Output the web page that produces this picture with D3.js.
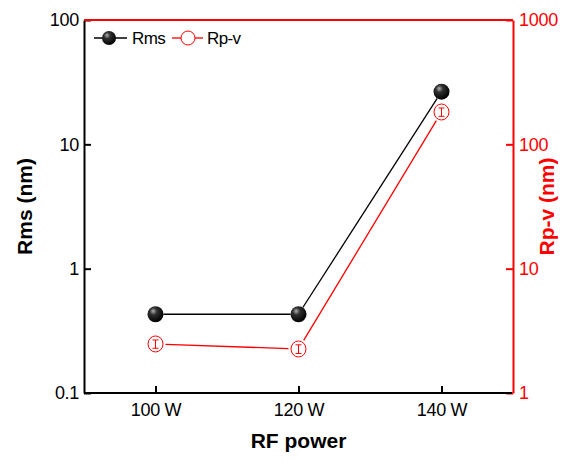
<!DOCTYPE html>
<html>
  <head>
    <title>Rms and Rp-v vs RF power</title>
    <script src="https://d3js.org/d3.v7.min.js"></script>
    <style>
      body { margin: 0; background: white; }
      svg { font-family: "Liberation Sans", Arial, sans-serif; }
      .tickLabel { font-size: 18px; letter-spacing: -0.3px; }
      .axisTitle { font-size: 21px; font-weight: bold; }
    </style>
  </head>
  <body>
    <script>
      // data
      var powers = [100, 120, 140];
      var powerLabels = ["100 W", "120 W", "140 W"];
      var rms = [0.43, 0.43, 26.5];
      var rmsErr = [0.02, 0.04, 1.2];
      var rpv = [2.48, 2.26, 182];
      var rpvErr = [0.19, 0.18, 14];
      var leftTicks = [0.1, 1, 10, 100];
      var rightTicks = [1, 10, 100, 1000];

      var width = 568;
      var height = 462;
      var margin = {top: 20, left: 84, right: 55, bottom: 69};

      var svg = d3.select("body")
        .append("svg")
        .attr("width", width)
        .attr("height", height);

      var defs = svg.append("defs");
      var grad = defs.append("radialGradient")
        .attr("id", "sphere")
        .attr("cx", "40%").attr("cy", "35%").attr("r", "65%")
        .attr("fx", "35%").attr("fy", "30%");
      grad.append("stop").attr("offset", "0%").attr("stop-color", "#b0b0b0");
      grad.append("stop").attr("offset", "35%").attr("stop-color", "#303030");
      grad.append("stop").attr("offset", "100%").attr("stop-color", "#000");

      var xScale = d3.scaleLinear()
        .domain([90, 150])
        .range([margin.left, width - margin.right]);

      var yLeft = d3.scaleLog()
        .domain([0.1, 100])
        .range([height - margin.bottom, margin.top]);

      var yRight = d3.scaleLog()
        .domain([1, 1000])
        .range([height - margin.bottom, margin.top]);

      function minors(lo, hi) {
        var out = [];
        for (var d = lo; d < hi; d *= 10)
          for (var k = 2; k <= 9; k++) out.push(d * k);
        return out;
      }

      var fmt = function(d) { return String(+d.toPrecision(3)); };

      // left axis (black, ticks inward)
      var gl = svg.append("g")
        .attr("transform", `translate(${margin.left},0)`);
      gl.call(d3.axisLeft(yLeft).tickValues(minors(0.1, 100)).tickSize(-4).tickFormat("").tickSizeOuter(0));
      gl.call(d3.axisLeft(yLeft).tickValues(leftTicks).tickSize(-7).tickPadding(5).tickFormat(fmt).tickSizeOuter(0));
      gl.selectAll("path, line").attr("stroke", "#000").attr("stroke-width", 2);
      gl.selectAll("text").attr("class", "tickLabel").attr("fill", "#000");

      // right axis (red, ticks inward)
      var gr = svg.append("g")
        .attr("transform", `translate(${width - margin.right},0)`);
      gr.call(d3.axisRight(yRight).tickValues(minors(1, 1000)).tickSize(-4).tickFormat("").tickSizeOuter(0));
      gr.call(d3.axisRight(yRight).tickValues(rightTicks).tickSize(-7).tickPadding(6).tickFormat(fmt).tickSizeOuter(0));
      gr.selectAll("path, line").attr("stroke", "red").attr("stroke-width", 2);
      gr.selectAll("text").attr("class", "tickLabel").attr("fill", "red");

      // top line (red)
      svg.append("line")
        .attr("x1", margin.left).attr("x2", width - margin.right)
        .attr("y1", margin.top).attr("y2", margin.top)
        .attr("stroke", "red").attr("stroke-width", 2);

      // bottom axis (black)
      var gb = svg.append("g")
        .attr("transform", `translate(0,${height - margin.bottom})`);
      gb.call(d3.axisBottom(xScale).tickValues(powers).tickSize(-7).tickPadding(10)
        .tickFormat(function(d, i) { return powerLabels[i]; }).tickSizeOuter(0));
      gb.select("path").attr("d", `M${margin.left},0H${width - margin.right - 1}`);
      gb.selectAll("path, line").attr("stroke", "#000").attr("stroke-width", 2);
      gb.selectAll("text").attr("class", "tickLabel").attr("fill", "#000");

      // segments between points, stopped short of the markers
      function segments(ys, yScale, gap) {
        var out = [];
        for (var i = 0; i < ys.length - 1; i++) {
          var x1 = xScale(powers[i]), y1 = yScale(ys[i]);
          var x2 = xScale(powers[i + 1]), y2 = yScale(ys[i + 1]);
          var len = Math.hypot(x2 - x1, y2 - y1);
          var ux = (x2 - x1) / len, uy = (y2 - y1) / len;
          out.push({x1: x1 + ux * gap, y1: y1 + uy * gap, x2: x2 - ux * gap, y2: y2 - uy * gap});
        }
        return out;
      }

      svg.selectAll(".rmsLine")
        .data(segments(rms, yLeft, 8))
        .enter().append("line")
        .attr("x1", d => d.x1).attr("y1", d => d.y1)
        .attr("x2", d => d.x2).attr("y2", d => d.y2)
        .attr("stroke", "#000").attr("stroke-width", 1.3);

      svg.selectAll(".rpvLine")
        .data(segments(rpv, yRight, 10))
        .enter().append("line")
        .attr("x1", d => d.x1).attr("y1", d => d.y1)
        .attr("x2", d => d.x2).attr("y2", d => d.y2)
        .attr("stroke", "red").attr("stroke-width", 1.3);

      // Rp-v markers: open circles with error bars
      var rp = svg.selectAll(".rpv")
        .data(powers)
        .enter().append("g");
      rp.append("ellipse")
        .attr("cx", (d) => xScale(d))
        .attr("cy", (d, i) => yRight(rpv[i]))
        .attr("rx", 7.5).attr("ry", 8)
        .attr("fill", "white").attr("stroke", "red").attr("stroke-width", 1);
      rp.append("path")
        .attr("d", function(d, i) {
          var x = xScale(d);
          var lo = yRight(rpv[i] - rpvErr[i]), hi = yRight(rpv[i] + rpvErr[i]);
          return `M${x},${lo}V${hi}M${x - 3},${lo}H${x + 3}M${x - 3},${hi}H${x + 3}`;
        })
        .attr("fill", "none").attr("stroke", "red").attr("stroke-width", 1);

      // Rms markers: shaded spheres
      var rm = svg.selectAll(".rms")
        .data(powers)
        .enter().append("g");
      rm.append("path")
        .attr("d", function(d, i) {
          var x = xScale(d);
          var lo = yLeft(rms[i] - rmsErr[i]), hi = yLeft(rms[i] + rmsErr[i]);
          return `M${x},${lo}V${hi}M${x - 3},${lo}H${x + 3}`;
        })
        .attr("stroke", "#777").attr("stroke-width", 1.5);
      rm.append("circle")
        .attr("cx", (d) => xScale(d))
        .attr("cy", (d, i) => yLeft(rms[i]))
        .attr("r", 8)
        .attr("fill", "url(#sphere)");

      // legend
      var lg = svg.append("g");
      lg.append("line").attr("x1", 94).attr("x2", 127).attr("y1", 38).attr("y2", 38)
        .attr("stroke", "#000").attr("stroke-width", 1.3);
      lg.append("circle").attr("cx", 109).attr("cy", 38).attr("r", 7).attr("fill", "url(#sphere)");
      lg.append("text").attr("x", 132).attr("y", 44).attr("font-size", 17).attr("letter-spacing", -0.6).text("Rms");
      lg.append("line").attr("x1", 172).attr("x2", 203).attr("y1", 38).attr("y2", 38)
        .attr("stroke", "red").attr("stroke-width", 1.3);
      lg.append("circle").attr("cx", 188).attr("cy", 38).attr("r", 7)
        .attr("fill", "white").attr("stroke", "red").attr("stroke-width", 1);
      lg.append("text").attr("x", 207).attr("y", 44).attr("font-size", 17).attr("letter-spacing", -0.6).text("Rp-v");

      // axis titles
      var midY = (margin.top + height - margin.bottom) / 2;
      svg.append("text")
        .attr("class", "axisTitle")
        .attr("transform", `translate(32,${midY}) rotate(-90)`)
        .attr("text-anchor", "middle")
        .text("Rms (nm)");

      svg.append("text")
        .attr("class", "axisTitle")
        .attr("transform", `translate(554,${midY}) rotate(-90)`)
        .attr("text-anchor", "middle")
        .attr("fill", "red")
        .text("Rp-v (nm)");

      svg.append("text")
        .attr("class", "axisTitle")
        .attr("x", (margin.left + width - margin.right) / 2)
        .attr("y", 448)
        .attr("text-anchor", "middle")
        .text("RF power");
    </script>
  </body>
</html>
